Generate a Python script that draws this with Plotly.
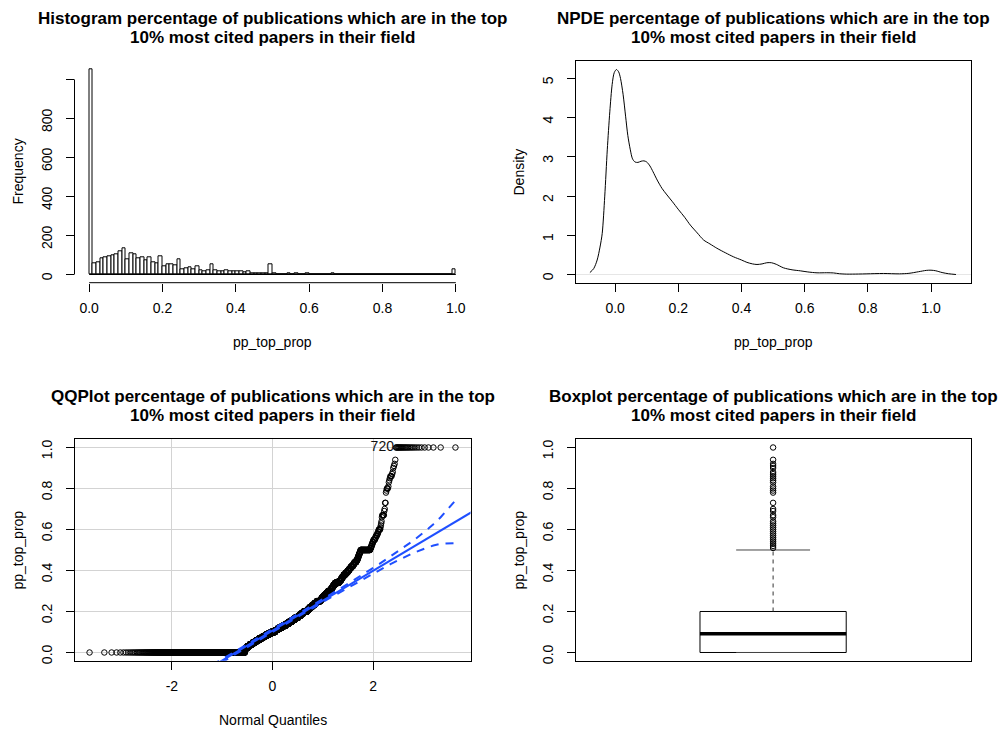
import numpy as np
from statistics import NormalDist
import plotly.graph_objects as go

# ---------------------------------------------------------------- data
# histogram of pp_top_prop: 100 bins of width 0.01 on [0, 1]
bin_width = 0.01
hist_counts = [
    1050, 58, 63, 82, 87, 93, 97, 104, 119, 132,
    77, 111, 102, 85, 90, 74, 89, 63, 60, 93,
    43, 51, 51, 46, 77, 27, 31, 36, 29, 41,
    22, 17, 21, 51, 22, 15, 15, 21, 19, 15,
    14, 17, 10, 15, 8, 5, 5, 5, 5, 51,
    4, 3, 3, 3, 6, 3, 4, 3, 2, 5,
    1, 1, 1, 1, 0, 1, 5, 0, 1, 1,
    0, 0, 2, 0, 0, 0, 0, 1, 1, 3,
    1, 0, 1, 1, 1, 3, 1, 1, 0, 1,
    1, 1, 0, 1, 0, 0, 0, 0, 0, 26,
]
bin_lower = [round(k * bin_width, 2) for k in range(len(hist_counts))]
bin_upper = [round((k + 1) * bin_width, 2) for k in range(len(hist_counts))]
# value taken by the observations in each bin (right-closed bins, first bin holds the zeros)
bin_value = [0.0] + bin_upper[1:]

# kernel density estimate of pp_top_prop
density_x = [-0.080, -0.068, -0.057, -0.048, -0.041, -0.033, -0.025, -0.017, -0.0095, -0.003,
             0.004, 0.011, 0.017, 0.025, 0.033, 0.040, 0.048, 0.055, 0.063, 0.072,
             0.082, 0.091, 0.100, 0.110, 0.120, 0.133, 0.148, 0.164, 0.180, 0.201,
             0.220, 0.238, 0.260, 0.280, 0.300, 0.322, 0.350, 0.375, 0.400, 0.417,
             0.435, 0.449, 0.465, 0.480, 0.495, 0.510, 0.533, 0.560, 0.586, 0.610,
             0.639, 0.670, 0.691, 0.710, 0.733, 0.770, 0.797, 0.849, 0.900, 0.930,
             0.960, 0.985, 1.000, 1.015, 1.035, 1.055, 1.079]
density_y = [0.05, 0.15, 0.37, 0.70, 1.05, 2.00, 3.18, 4.15, 4.85, 5.15,
             5.23, 5.17, 5.00, 4.60, 4.04, 3.55, 3.18, 2.95, 2.87, 2.86,
             2.89, 2.90, 2.87, 2.77, 2.62, 2.41, 2.20, 2.03, 1.87, 1.65,
             1.46, 1.26, 1.06, 0.88, 0.78, 0.67, 0.55, 0.45, 0.37, 0.31,
             0.27, 0.256, 0.27, 0.30, 0.30, 0.26, 0.17, 0.12, 0.094, 0.065,
             0.043, 0.045, 0.040, 0.020, 0.010, 0.012, 0.017, 0.026, 0.017, 0.030,
             0.070, 0.105, 0.110, 0.095, 0.050, 0.020, 0.0]

# reference line of the normal QQ plot
qq_intercept = 0.107
qq_slope = 0.146
qq_envelope = 0.95
qq_labels = ["720"]

# boxplot statistics
box_lower, box_q1, box_median, box_q3, box_upper = 0.0, 0.0, 0.091, 0.2, 0.5

# tick labels
hist_yticks = [0, 200, 400, 600, 800, 1000]
hist_yticktext = ["0", "200", "400", "600", "800", ""]
prop_ticks = [0.0, 0.2, 0.4, 0.6, 0.8, 1.0]
prop_ticktext = ["0.0", "0.2", "0.4", "0.6", "0.8", "1.0"]
dens_yticks = [0, 1, 2, 3, 4, 5]
qq_xticks = [-2, 0, 2]
qq_xticktext = ["-2", "0", "2"]

title_rest = "percentage of publications which are in the top"
title_line2 = "10% most cited papers in their field"

# ---------------------------------------------------------------- derived
sample = np.sort(np.repeat(bin_value, hist_counts))
n = sample.size
nd = NormalDist()
P = (np.arange(1, n + 1) - 0.5) / n
z = np.array([nd.inv_cdf(p) for p in P])
fit = qq_intercept + qq_slope * z
se = qq_slope / np.array([nd.pdf(v) for v in z]) * np.sqrt(P * (1 - P) / n)
zz = nd.inv_cdf(1 - (1 - qq_envelope) / 2)
upper_env = fit + zz * se
lower_env = fit - zz * se
outliers = np.unique(sample[sample > box_upper])

# ---------------------------------------------------------------- layout helpers
W, H = 998, 729
FONT = "Liberation Sans, Arial, Helvetica, sans-serif"
BLUE = "#1f4fff"


def px_x(v):
    return v / W


def px_y(v):
    return 1 - v / H


# plot regions in pixels: (left, right, top, bottom)
regions = {
    "hist": (74.5, 470.5, 61.3, 282.7),
    "dens": (575.5, 970.7, 61.3, 282.7),
    "qq": (74.5, 470.5, 439.3, 660.7),
    "box": (575.5, 970.7, 439.3, 660.7),
}

fig = go.Figure()

# ---------------------------------------------------------------- histogram
fig.add_trace(go.Bar(
    x=[(a + b) / 2 for a, b in zip(bin_lower, bin_upper)], y=hist_counts, width=bin_width,
    marker=dict(color="white", line=dict(color="black", width=1)),
    xaxis="x", yaxis="y", showlegend=False, hoverinfo="skip"))
fig.add_trace(go.Scatter(
    x=[bin_lower[0], bin_upper[-1]], y=[0, 0], mode="lines",
    line=dict(color="black", width=1), xaxis="x", yaxis="y", showlegend=False, hoverinfo="skip"))

# ---------------------------------------------------------------- density
fig.add_trace(go.Scatter(
    x=density_x, y=density_y, mode="lines", line=dict(color="black", width=1, shape="spline", smoothing=0.8),
    xaxis="x2", yaxis="y2", showlegend=False, hoverinfo="skip"))

# ---------------------------------------------------------------- qq plot
fig.add_trace(go.Scatter(
    x=z, y=sample, mode="markers",
    marker=dict(symbol="circle-open", size=5.5, color="black", line=dict(width=1)),
    xaxis="x3", yaxis="y3", showlegend=False, hoverinfo="skip"))
line_x = [-4.5, 4.5]
fig.add_trace(go.Scatter(
    x=line_x, y=[qq_intercept + qq_slope * v for v in line_x], mode="lines",
    line=dict(color=BLUE, width=2), xaxis="x3", yaxis="y3", showlegend=False, hoverinfo="skip"))
for env in (upper_env, lower_env):
    fig.add_trace(go.Scatter(
        x=z, y=env, mode="lines", line=dict(color=BLUE, width=2, dash="8px,7px"),
        xaxis="x3", yaxis="y3", showlegend=False, hoverinfo="skip"))
fig.add_trace(go.Scatter(
    x=[z[-int(np.sum(sample >= 1.0))] - 0.04] * len(qq_labels), y=[1.0] * len(qq_labels),
    text=qq_labels, mode="text", textposition="middle left",
    textfont=dict(family=FONT, size=14, color="#111"),
    xaxis="x3", yaxis="y3", showlegend=False, hoverinfo="skip"))

# ---------------------------------------------------------------- boxplot
box_c, box_half, cap_half = 1.0, 0.185, 0.0935
fig.add_trace(go.Scatter(
    x=[box_c - box_half, box_c + box_half, box_c + box_half, box_c - box_half, box_c - box_half],
    y=[box_q1, box_q1, box_q3, box_q3, box_q1], mode="lines",
    line=dict(color="black", width=1), xaxis="x4", yaxis="y4", showlegend=False, hoverinfo="skip"))
fig.add_trace(go.Scatter(
    x=[box_c, box_c], y=[box_q3, box_upper], mode="lines",
    line=dict(color="#333", width=1, dash="4px,4px"), xaxis="x4", yaxis="y4", showlegend=False, hoverinfo="skip"))
for v in (box_lower, box_upper):
    fig.add_trace(go.Scatter(
        x=[box_c - cap_half, box_c + cap_half], y=[v, v], mode="lines",
        line=dict(color="#444", width=1), xaxis="x4", yaxis="y4", showlegend=False, hoverinfo="skip"))
fig.add_trace(go.Scatter(
    x=[box_c - box_half, box_c + box_half], y=[box_median, box_median], mode="lines",
    line=dict(color="black", width=3.5), xaxis="x4", yaxis="y4", showlegend=False, hoverinfo="skip"))
fig.add_trace(go.Scatter(
    x=[box_c] * len(outliers), y=outliers, mode="markers",
    marker=dict(symbol="circle-open", size=5.5, color="black", line=dict(width=1)),
    xaxis="x4", yaxis="y4", showlegend=False, hoverinfo="skip"))

# ---------------------------------------------------------------- axes
tickfont = dict(family=FONT, size=14, color="black")


def dom(key):
    l, r, t, b = regions[key]
    return [px_x(l), px_x(r)], [px_y(b), px_y(t)]


common = dict(ticks="outside", ticklen=8, tickwidth=1, tickcolor="black", tickfont=tickfont,
              showgrid=False, zeroline=False, automargin=False)
xcommon = dict(ticklabelstandoff=4)
ycommon = dict(tickangle=-90, ticklabelstandoff=8, ticklabelshift=4)
boxed = dict(showline=True, linecolor="black", linewidth=1, mirror=True)

xd, yd = dom("hist")
fig.update_layout(
    xaxis=dict(domain=xd, range=[-0.04, 1.04], tickvals=prop_ticks, ticktext=prop_ticktext,
               anchor="y", **xcommon, **common),
    yaxis=dict(domain=yd, range=[-42, 1093], tickvals=hist_yticks, ticktext=hist_yticktext,
               anchor="x", **ycommon, **common),
)
xd, yd = dom("dens")
fig.update_layout(
    xaxis2=dict(domain=xd, range=[-0.1256, 1.1256], tickvals=prop_ticks, ticktext=prop_ticktext,
                anchor="y2", **xcommon, **common, **boxed),
    yaxis2=dict(domain=yd, range=[-0.2092, 5.44], tickvals=dens_yticks,
                anchor="x2", **ycommon,
                **{**common, "zeroline": True}, zerolinecolor="#e6e6e6", zerolinewidth=1, **boxed),
)
xd, yd = dom("qq")
fig.update_layout(
    xaxis3=dict(domain=xd, range=[-3.935, 3.935], tickvals=qq_xticks, ticktext=qq_xticktext,
                anchor="y3", **xcommon,
                **{**common, "showgrid": True}, gridcolor="#d3d3d3", gridwidth=1, **boxed),
    yaxis3=dict(domain=yd, range=[-0.04, 1.04], tickvals=prop_ticks, ticktext=prop_ticktext,
                anchor="x3", **ycommon,
                **{**common, "showgrid": True}, gridcolor="#d3d3d3", gridwidth=1, **boxed),
)
xd, yd = dom("box")
fig.update_layout(
    xaxis4=dict(domain=xd, range=[0.5, 1.5], showticklabels=False, ticks="", automargin=False,
                anchor="y4", showgrid=False, zeroline=False, **boxed),
    yaxis4=dict(domain=yd, range=[-0.04, 1.04], tickvals=prop_ticks, ticktext=prop_ticktext,
                anchor="x4", **ycommon, **common, **boxed),
)

# histogram axis lines span only the tick range
fig.add_shape(type="line", xref="x domain", yref="y", x0=0, x1=0, y0=hist_yticks[0], y1=hist_yticks[-1],
              line=dict(color="black", width=1))
fig.add_shape(type="line", xref="x", yref="y domain", x0=prop_ticks[0], x1=prop_ticks[-1], y0=0, y1=0,
              line=dict(color="black", width=1))

# ---------------------------------------------------------------- titles and axis labels
titles = {"hist": "Histogram", "dens": "NPDE", "qq": "QQPlot", "box": "Boxplot"}
xlabels = {"hist": "pp_top_prop", "dens": "pp_top_prop", "qq": "Normal Quantiles"}
ylabels = {"hist": "Frequency", "dens": "Density", "qq": "pp_top_prop", "box": "pp_top_prop"}
annotations = []
for key, (l, r, t, b) in regions.items():
    cx = (l + r) / 2
    annotations.append(dict(x=px_x(cx), y=px_y(t - 43.3), xref="paper", yref="paper",
                            text=f"<b>{titles[key]} {title_rest}</b>", showarrow=False,
                            font=dict(family=FONT, size=17, color="black"), xanchor="center", yanchor="middle"))
    annotations.append(dict(x=px_x(cx), y=px_y(t - 23.8), xref="paper", yref="paper",
                            text=f"<b>{title_line2}</b>", showarrow=False,
                            font=dict(family=FONT, size=17, color="black"), xanchor="center", yanchor="middle"))
    if key in xlabels:
        annotations.append(dict(x=px_x(cx), y=px_y(b + 59.5), xref="paper", yref="paper",
                                text=xlabels[key], showarrow=False,
                                font=dict(family=FONT, size=14, color="black"), xanchor="center", yanchor="middle"))
    annotations.append(dict(x=px_x(l - 57), y=px_y((t + b) / 2), xref="paper", yref="paper",
                            text=ylabels[key], showarrow=False, textangle=-90,
                            font=dict(family=FONT, size=14, color="black"), xanchor="center", yanchor="middle"))

fig.update_layout(
    width=W, height=H, autosize=False,
    margin=dict(l=0, r=0, t=0, b=0, autoexpand=False),
    paper_bgcolor="white", plot_bgcolor="white",
    bargap=0, annotations=annotations,
    font=dict(family=FONT, size=14, color="black"),
)

fig.write_html("out.html")
